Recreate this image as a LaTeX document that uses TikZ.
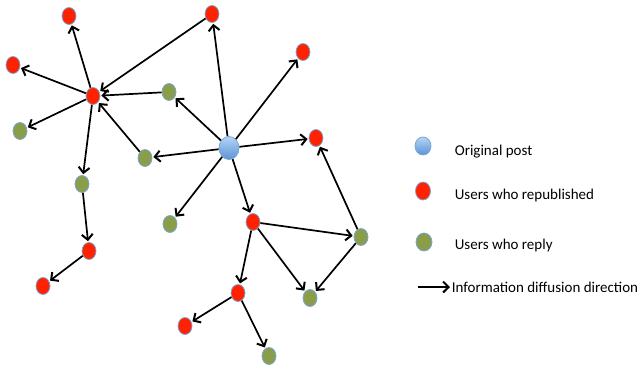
\documentclass[tikz,border=0pt]{standalone}
\usepackage{fontspec}
\setmainfont{Carlito}
\usetikzlibrary{arrows.meta,shapes.geometric}
\definecolor{repred}{HTML}{FF2200}
\definecolor{replygreen}{HTML}{8A9E4A}
\definecolor{rimblue}{HTML}{7AA6D8}
\definecolor{posttop}{HTML}{B4D4F4}
\definecolor{postbot}{HTML}{5C93D6}
\begin{document}
\begin{tikzpicture}[x=1pt,y=-1pt,shorten >=1pt,->,>={Straight Barb[length=5.5pt,width=11pt,line width=2pt]},line width=1.7pt,
    user/.style={ellipse,draw=rimblue,line width=0.8pt,inner sep=0pt,minimum width=14pt,minimum height=17pt},
    rep/.style={user,fill=repred},
    reply/.style={user,fill=replygreen},
    post/.style={user,top color=posttop,bottom color=postbot,minimum width=20pt,minimum height=23pt},
    legend/.style={anchor=west,font=\fontsize{15}{18}\selectfont,inner sep=0pt}]
    \useasboundingbox (0,0) rectangle (640,368);
    \node[post] (o) at (229,148) {};
    \node[rep] (m) at (93,96) {};
    \node[rep] (r1) at (69,16) {};
    \node[rep] (r2) at (212,14) {};
    \node[rep] (r3) at (13,65) {};
    \node[rep] (r4) at (303,52) {};
    \node[rep] (r5) at (316,138) {};
    \node[rep] (r6) at (253,222) {};
    \node[rep] (r7) at (89,251) {};
    \node[rep] (r8) at (43,286) {};
    \node[rep] (r9) at (238,293) {};
    \node[rep] (r10) at (185,326) {};
    \node[reply] (g1) at (169,92) {};
    \node[reply] (g2) at (20,131) {};
    \node[reply] (g3) at (145,158) {};
    \node[reply] (g4) at (82,184) {};
    \node[reply] (g5) at (170,224) {};
    \node[reply] (g6) at (361,237) {};
    \node[reply] (g7) at (310,298) {};
    \node[reply] (g8) at (269,356) {};
    \path (o) edge (g1) edge (r2) edge (r4) edge (r5) edge (g3) edge (g5) edge (r6);
    \path (r2) edge (m) (g1) edge (m) (g3) edge (m);
    \path (m) edge (r1) edge (r3) edge (g2) edge (g4);
    \path (g4) edge (r7) (r7) edge (r8);
    \path (r6) edge (g6) edge (g7) edge (r9);
    \path (g6) edge (r5) edge (g7);
    \path (r9) edge (r10) edge (g8);
    \node[post,minimum width=16pt,minimum height=18pt] (k1) at (423,146) {};
    \node[legend] (t1) at (454,152) {Original post};
    \node[rep,minimum width=15pt,minimum height=18pt] (k2) at (423,191) {};
    \node[legend] (t2) at (454,195) {Users who republished};
    \node[reply,minimum width=16pt,minimum height=18pt] (k3) at (424,242) {};
    \node[legend] (t3) at (454,245) {Users who reply};
    \coordinate (a) at (418,287);
    \node[legend] (t4) at (451,287) {Information diffusion direction};
    \draw (a) -- (t4.west);
\end{tikzpicture}
\end{document}
